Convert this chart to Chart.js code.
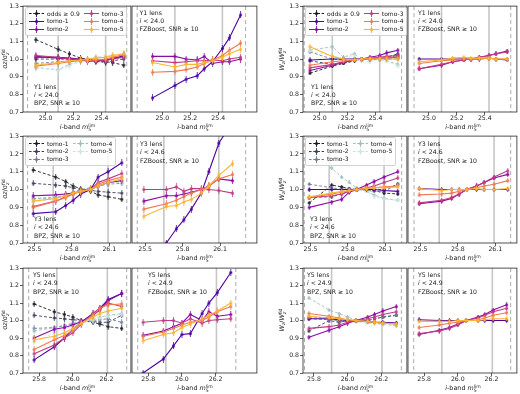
<!DOCTYPE html>
<html>
<head>
<meta charset="utf-8">
<script src="https://cdn.jsdelivr.net/npm/chart.js@4.4.1/dist/chart.umd.min.js"></script>
<style>
  body { margin: 0; background: #fff; }
  #fig { position: relative; width: 520px; height: 394px; overflow: hidden; font-family: 'DejaVu Sans', sans-serif; color: #222; }
  #fig canvas { position: absolute; }
  .txt { position: absolute; font-size: 6.2px; line-height: 8.3px; white-space: nowrap; }
  .ttl { position: absolute; font-size: 6.4px; white-space: nowrap; transform: translate(-50%, -50%); }
  .ttl.rot { transform: translate(-50%, -50%) rotate(-90deg); }
  .stk { display: inline-block; vertical-align: -0.45em; line-height: 0.85; font-size: 72%; text-align: left; }
  .leg { position: absolute; background: rgba(255,255,255,0.8); border: 0.8px solid #d2d2d2; border-radius: 2px;
         padding: 1.5px 3px; display: grid; grid-template-rows: repeat(3, 7.9px); grid-auto-flow: column;
         column-gap: 4px; font-size: 6px; line-height: 7.9px; }
  .leg div { display: flex; align-items: center; white-space: nowrap; }
  .leg svg { margin-right: 3px; }
</style>
</head>
<body>
<div id="fig"></div>
<script>
// x values (i-band depth) for each survey year
const row1X = [24.93, 25.09, 25.17, 25.25, 25.30, 25.36, 25.43, 25.48, 25.56];
const row2X = [25.49, 25.67, 25.75, 25.81, 25.87, 25.95, 26.01, 26.09, 26.20];
const row3X = [25.77, 25.89, 25.95, 26.00, 26.05, 26.12, 26.16, 26.21, 26.29];
const row1Ticks = [25.0, 25.2, 25.4];
const row2Ticks = [25.5, 25.8, 26.1];
const row3Ticks = [25.8, 26.0, 26.2];
const row1Solid = [25.09, 25.43];
const row2Solid = [25.65, 26.09];
const row3Solid = [25.905, 26.205];
const yTicks = [0.7, 0.8, 0.9, 1.0, 1.1, 1.2, 1.3];

const TOMO = ['tomo-1', 'tomo-2', 'tomo-3', 'tomo-4', 'tomo-5'];
const tomoColors = ['#4c02a1', '#8b0aa5', '#c03a83', '#ed7953', '#fdb42f'];
const oddsColors = ['#1c1c24', '#3e3e5c', '#707e9a', '#a0bebe', '#cce6e6'];

// ---- Y1 ----
const y1SigBpz = [
  [1.01, 1.01, 1.005, 1.0, 0.995, 0.99, 0.995, 1.0, 1.02],
  [1.015, 1.005, 1.0, 0.995, 0.99, 0.99, 0.995, 1.005, 1.015],
  [1.02, 1.01, 1.0, 1.0, 0.985, 0.99, 0.99, 1.0, 1.01],
  [0.96, 0.975, 0.985, 0.99, 0.99, 0.995, 1.0, 1.01, 1.025],
  [0.965, 0.98, 0.99, 0.995, 1.0, 1.005, 1.01, 1.02, 1.03],
];
const y1SigBpzOdds = [
  [1.11, 1.055, 1.03, 1.005, 1.0, 0.985, 0.985, 0.98, 0.965],
  [1.0, 1.0, 1.0, 1.0, 1.0, 0.99, 0.98, 0.99, 1.0],
  [0.975, 0.985, 0.99, 0.995, 1.0, 1.0, 0.995, 1.0, 1.01],
  [0.95, 0.94, 0.97, 0.985, 1.0, 1.01, 1.01, 1.02, 1.03],
  [0.955, 0.935, 0.96, 0.99, 1.0, 1.01, 1.02, 1.02, 1.03],
];
const y1SigFz = [
  [0.78, 0.85, 0.885, 0.905, 0.945, 0.985, 1.06, 1.12, 1.25],
  [1.015, 1.015, 1.0, 0.995, 1.015, 0.975, 0.985, 0.985, 1.0],
  [0.99, 0.98, 0.985, 0.99, 0.99, 0.995, 0.99, 1.0, 1.01],
  [0.925, 0.93, 0.94, 0.955, 0.975, 0.995, 1.02, 1.05, 1.09],
  [0.98, 0.955, 0.97, 0.97, 0.98, 0.99, 1.01, 1.03, 1.055],
];
const y1WBpz = [
  [0.995, 1.0, 1.0, 1.0, 1.0, 1.0, 1.005, 1.005, 1.01],
  [0.935, 0.965, 0.98, 0.995, 1.0, 1.01, 1.02, 1.035, 1.05],
  [0.95, 0.97, 0.985, 0.995, 1.0, 1.005, 1.01, 1.015, 1.02],
  [0.965, 0.985, 0.99, 0.995, 1.0, 1.005, 1.005, 1.01, 1.01],
  [1.07, 1.015, 1.0, 0.995, 1.0, 1.0, 1.0, 1.0, 1.0],
];
const y1WBpzOdds = [
  [0.92, 0.96, 0.975, 0.99, 1.0, 1.005, 1.01, 1.01, 1.02],
  [0.99, 0.97, 0.98, 0.995, 1.0, 1.0, 1.005, 1.01, 1.03],
  [1.04, 1.0, 0.995, 1.0, 1.0, 1.0, 0.995, 1.0, 1.0],
  [1.05, 1.07, 1.01, 1.03, 0.99, 1.01, 1.0, 0.99, 0.97],
  [1.045, 1.02, 1.0, 1.02, 0.99, 0.985, 1.0, 0.99, 0.96],
];
const y1WFz = [
  [1.0, 1.0, 1.0, 1.0, 1.0, 1.0, 1.005, 1.0, 0.995],
  [0.945, 0.965, 0.985, 0.995, 1.0, 1.01, 1.02, 1.03, 1.045],
  [0.945, 0.97, 0.985, 0.995, 1.0, 1.01, 1.02, 1.03, 1.04],
  [0.975, 0.99, 0.995, 1.0, 1.0, 1.005, 1.005, 1.0, 1.0],
  [0.985, 0.995, 1.005, 1.01, 1.005, 1.005, 1.005, 1.0, 1.0],
];

// ---- Y3 ----
const y3SigBpz = [
  [0.865, 0.875, 0.91, 0.94, 0.975, 1.0, 1.07, 1.10, 1.15],
  [0.965, 0.97, 0.975, 0.98, 0.99, 1.0, 1.02, 1.04, 1.05],
  [0.905, 0.935, 0.96, 0.975, 0.99, 1.0, 1.04, 1.06, 1.09],
  [0.90, 0.935, 0.955, 0.975, 0.99, 1.0, 1.03, 1.05, 1.07],
  [0.935, 0.95, 0.965, 0.98, 0.99, 1.0, 1.02, 1.04, 1.06],
];
const y3SigBpzOdds = [
  [1.11, 1.07, 1.045, 1.02, 1.005, 0.99, 0.97, 0.96, 0.945],
  [1.035, 1.025, 1.02, 1.01, 1.0, 0.995, 0.99, 0.985, 0.98],
  [0.95, 0.955, 0.97, 0.985, 1.0, 1.01, 1.02, 1.03, 1.035],
  [0.945, 0.955, 0.97, 0.98, 0.99, 1.0, 1.02, 1.04, 1.04],
  [0.93, 0.95, 0.965, 0.98, 0.99, 1.0, 1.02, 1.035, 1.04],
];
const y3SigFz = [
  [0.58, 0.70, 0.78, 0.83, 0.89, 0.98, 1.10, 1.26, 1.38],
  [0.935, 0.965, 0.965, 0.975, 0.985, 1.0, 1.02, 1.06, 1.05],
  [1.0, 1.0, 1.015, 0.99, 1.005, 1.005, 1.0, 0.995, 0.98],
  [0.89, 0.92, 0.94, 0.96, 0.98, 1.0, 1.02, 1.06, 1.085],
  [0.85, 0.905, 0.91, 0.93, 0.945, 0.98, 1.02, 1.08, 1.145],
];
const y3WBpz = [
  [1.0, 1.0, 1.0, 1.0, 1.0, 1.0, 1.0, 0.995, 0.99],
  [0.90, 0.93, 0.945, 0.985, 1.0, 1.025, 1.045, 1.07, 1.10],
  [0.955, 0.965, 0.975, 0.99, 1.0, 1.01, 1.02, 1.04, 1.065],
  [0.955, 0.975, 0.985, 0.995, 1.0, 1.005, 1.01, 1.015, 1.02],
  [0.96, 0.98, 0.99, 0.995, 1.0, 1.005, 1.01, 1.01, 1.015],
];
const y3WBpzOdds = [
  [0.925, 1.025, 1.015, 1.005, 1.0, 1.0, 0.995, 0.98, 0.975],
  [0.955, 0.96, 0.975, 0.99, 1.0, 1.0, 1.0, 1.0, 1.03],
  [1.03, 1.01, 1.0, 1.005, 1.0, 0.995, 0.99, 0.99, 1.03],
  [1.21, 1.12, 1.07, 1.04, 1.01, 0.99, 0.97, 0.95, 0.94],
  [1.0, 1.0, 1.0, 1.0, 1.0, 0.99, 0.96, 0.945, 0.94],
];
const y3WFz = [
  [1.005, 1.0, 1.0, 1.0, 1.0, 1.0, 1.0, 1.0, 1.0],
  [0.92, 0.935, 0.95, 0.975, 1.0, 1.02, 1.04, 1.065, 1.085],
  [0.925, 0.94, 0.955, 0.975, 1.0, 1.02, 1.04, 1.07, 1.105],
  [0.97, 0.975, 0.98, 0.99, 1.0, 1.01, 1.02, 1.03, 1.05],
  [1.005, 0.995, 1.0, 1.0, 1.0, 1.005, 1.0, 1.0, 1.005],
];

// ---- Y5 ----
const y5SigBpz = [
  [0.775, 0.85, 0.90, 0.95, 0.99, 1.04, 1.07, 1.12, 1.155],
  [0.90, 0.95, 0.96, 0.975, 0.995, 1.03, 1.06, 1.115, 1.155],
  [0.81, 0.86, 0.90, 0.93, 0.98, 1.04, 1.07, 1.10, 1.08],
  [0.835, 0.89, 0.915, 0.945, 0.985, 1.03, 1.07, 1.09, 1.095],
  [0.89, 0.91, 0.93, 0.955, 0.985, 1.02, 1.04, 1.055, 1.07],
];
const y5SigBpzOdds = [
  [1.095, 1.05, 1.035, 1.02, 1.0, 0.99, 0.98, 0.965, 0.955],
  [1.03, 1.015, 1.01, 1.005, 1.0, 0.995, 0.99, 0.99, 1.03],
  [0.955, 0.96, 0.97, 0.98, 0.99, 1.0, 1.005, 1.01, 0.99],
  [0.94, 0.96, 0.975, 0.985, 1.0, 1.005, 1.02, 1.03, 1.04],
  [0.875, 0.93, 0.95, 0.97, 0.99, 1.0, 1.015, 1.025, 1.035],
];
const y5SigFz = [
  [0.70, 0.78, 0.855, 0.92, 0.925, 1.04, 1.10, 1.16, 1.275],
  [0.915, 0.94, 0.965, 0.985, 1.035, 1.0, 1.05, 1.025, 1.035],
  [0.99, 1.0, 1.0, 0.985, 1.01, 0.985, 1.0, 1.005, 1.01],
  [0.91, 0.935, 0.955, 0.975, 0.99, 1.0, 1.02, 1.05, 1.08],
  [0.885, 0.92, 0.93, 0.96, 0.98, 1.01, 1.03, 1.055, 1.10],
];
const y5WBpz = [
  [1.01, 1.01, 1.005, 1.0, 1.0, 0.995, 0.99, 0.99, 0.985],
  [0.905, 0.945, 0.965, 0.985, 1.0, 1.02, 1.035, 1.055, 1.08],
  [0.955, 0.965, 0.975, 0.99, 1.0, 1.01, 1.02, 1.035, 1.05],
  [1.04, 1.025, 1.015, 1.005, 1.0, 0.995, 0.99, 0.985, 0.98],
  [1.025, 1.015, 1.01, 1.005, 1.0, 0.995, 0.99, 0.985, 0.98],
];
const y5WBpzOdds = [
  [1.02, 1.015, 1.0, 0.995, 1.0, 1.0, 1.01, 1.02, 1.03],
  [0.94, 1.0, 0.99, 1.0, 1.0, 0.995, 0.99, 0.985, 0.985],
  [1.01, 1.005, 1.0, 1.0, 0.995, 1.0, 1.01, 1.02, 1.03],
  [1.13, 1.06, 1.04, 1.02, 1.0, 0.99, 0.985, 0.98, 0.97],
  [1.02, 1.01, 1.005, 1.0, 0.99, 0.985, 0.98, 0.975, 0.975],
];
const y5WFz = [
  [1.005, 1.0, 1.0, 1.0, 1.0, 1.0, 1.0, 1.0, 1.0],
  [0.92, 0.945, 0.96, 0.98, 1.0, 1.02, 1.035, 1.06, 1.09],
  [0.925, 0.94, 0.955, 0.975, 1.0, 1.015, 1.03, 1.05, 1.07],
  [0.96, 0.975, 0.985, 0.99, 1.0, 1.005, 1.015, 1.03, 1.045],
  [0.995, 0.995, 0.995, 1.0, 1.0, 1.0, 1.005, 1.01, 1.01],
];

// layout (chart-area boxes in page pixels)
const COLS = { AL: [23, 132], AR: [132, 258], BL: [303, 408], BR: [408, 518] };
const ROWS = [[5, 112], [135, 243], [267, 373]];
const ROWINFO = [
  { x: row1X, ticks: row1Ticks, solid: row1Solid, lens: 'Y1', cut: '24.0' },
  { x: row2X, ticks: row2Ticks, solid: row2Solid, lens: 'Y3', cut: '24.6' },
  { x: row3X, ticks: row3Ticks, solid: row3Solid, lens: 'Y5', cut: '24.9' },
];

const panels = [
  { row: 0, col: 'AL', tomo: y1SigBpz, odds: y1SigBpzOdds, range: [24.838, 25.611], dashed: [24.871, 25.581], code: 'BPZ', note: [34, 82.5], legend: 'odds' },
  { row: 0, col: 'AR', tomo: y1SigFz, range: [24.783, 25.677], dashed: [24.82, 25.596], code: 'FZBoost', note: [139.5, 8.5] },
  { row: 0, col: 'BL', tomo: y1WBpz, odds: y1WBpzOdds, range: [24.880, 25.625], dashed: [24.889, 25.587], code: 'BPZ', note: [311, 82.5], legend: 'odds' },
  { row: 0, col: 'BR', tomo: y1WFz, range: [24.850, 25.630], dashed: [24.893, 25.586], code: 'FZBoost', note: [418, 8.5] },

  { row: 1, col: 'AL', tomo: y3SigBpz, odds: y3SigBpzOdds, range: [25.408, 26.273], dashed: [25.445, 26.24], code: 'BPZ', note: [34, 215], legend: 'tomo' },
  { row: 1, col: 'AR', tomo: y3SigFz, range: [25.395, 26.395], dashed: [25.437, 26.305], code: 'FZBoost', note: [140, 140] },
  { row: 1, col: 'BL', tomo: y3WBpz, odds: y3WBpzOdds, range: [25.440, 26.273], dashed: [25.45, 26.231], code: 'BPZ', note: [310, 215], legend: 'tomo' },
  { row: 1, col: 'BR', tomo: y3WFz, range: [25.400, 26.273], dashed: [25.448, 26.223], code: 'FZBoost', note: [418, 140] },

  { row: 2, col: 'AL', tomo: y5SigBpz, odds: y5SigBpzOdds, range: [25.704, 26.345], dashed: [25.738, 26.32], code: 'BPZ', note: [33, 271] },
  { row: 2, col: 'AR', tomo: y5SigFz, range: [25.704, 26.445], dashed: [25.738, 26.32], code: 'FZBoost', note: [148, 271] },
  { row: 2, col: 'BL', tomo: y5WBpz, odds: y5WBpzOdds, range: [25.735, 26.353], dashed: [25.744, 26.32], code: 'BPZ', note: [307, 271] },
  { row: 2, col: 'BR', tomo: y5WFz, range: [25.704, 26.351], dashed: [25.738, 26.314], code: 'FZBoost', note: [418, 271] },
];

Chart.defaults.font.family = "'DejaVu Sans', sans-serif";
Chart.defaults.font.size = 6.2;
Chart.defaults.color = '#222';

const fig = document.getElementById('fig');
const YAX = 26, XAX = 22, PADT = 4, PADR = 4;

// errorbar-like marker: vertical bar with a dot
const spriteCache = {};
function marker(color, h) {
  const key = color + h;
  if (spriteCache[key]) return spriteCache[key];
  const c = document.createElement('canvas');
  c.width = 5; c.height = h;
  const g = c.getContext('2d');
  g.strokeStyle = color; g.lineWidth = 0.8;
  g.beginPath(); g.moveTo(2.5, 0); g.lineTo(2.5, h); g.stroke();
  g.fillStyle = color;
  g.beginPath(); g.arc(2.5, h / 2, 1.5, 0, Math.PI * 2); g.fill();
  spriteCache[key] = c;
  return c;
}

const vlines = {
  id: 'vlines',
  beforeDatasetsDraw(chart, args, opts) {
    const { ctx, chartArea: a, scales: { x } } = chart;
    ctx.save();
    ctx.beginPath(); ctx.rect(a.left, a.top, a.width, a.height); ctx.clip();
    ctx.strokeStyle = '#c6c6c6'; ctx.lineWidth = 1.6;
    opts.solid.forEach(v => {
      const px = x.getPixelForValue(v);
      ctx.beginPath(); ctx.moveTo(px, a.top); ctx.lineTo(px, a.bottom); ctx.stroke();
    });
    ctx.strokeStyle = '#ababab'; ctx.lineWidth = 1; ctx.setLineDash([4, 3]);
    opts.dashed.forEach(v => {
      const px = x.getPixelForValue(v);
      ctx.beginPath(); ctx.moveTo(px, a.top); ctx.lineTo(px, a.bottom); ctx.stroke();
    });
    ctx.restore();
  }
};

const frame = {
  id: 'frame',
  afterDatasetsDraw(chart) {
    const { ctx, chartArea: a } = chart;
    ctx.save();
    ctx.strokeStyle = '#262626'; ctx.lineWidth = 0.8;
    ctx.strokeRect(a.left, a.top, a.width, a.height);
    ctx.restore();
  }
};

function makePanel(p) {
  const info = ROWINFO[p.row];
  const [x0, x1] = COLS[p.col];
  const [y0, y1] = ROWS[p.row];
  const isLeft = p.col === 'AL' || p.col === 'BL';
  const isSigma = p.col[0] === 'A';
  const W = (x1 - x0) + YAX + PADR, H = (y1 - y0) + PADT + XAX;

  const cv = document.createElement('canvas');
  cv.width = W; cv.height = H;
  cv.style.left = (x0 - YAX) + 'px'; cv.style.top = (y0 - PADT) + 'px';
  cv.style.width = W + 'px'; cv.style.height = H + 'px';
  fig.appendChild(cv);

  const barH = isSigma ? 7 : 5;
  const datasets = [];
  p.tomo.forEach((ys, i) => datasets.push({
    label: TOMO[i],
    data: info.x.map((x, j) => ({ x, y: ys[j] })),
    borderColor: tomoColors[i], backgroundColor: tomoColors[i],
    borderWidth: 1.1, pointStyle: marker(tomoColors[i], barH), pointRadius: 2,
    order: 5 - i, clip: 0
  }));
  (p.odds || []).forEach((ys, i) => datasets.push({
    label: 'odds ' + TOMO[i],
    data: info.x.map((x, j) => ({ x, y: ys[j] })),
    borderColor: oddsColors[i], backgroundColor: oddsColors[i],
    borderWidth: 0.9, borderDash: [3, 2], pointStyle: marker(oddsColors[i], barH - 1), pointRadius: 2,
    order: 20 - i, clip: 0
  }));

  new Chart(cv, {
    type: 'line',
    data: { datasets },
    options: {
      responsive: false, animation: false, devicePixelRatio: 1,
      layout: { padding: { left: 0, top: PADT, right: PADR, bottom: 0 } },
      plugins: {
        legend: { display: false }, tooltip: { enabled: false },
        vlines: { solid: info.solid, dashed: p.dashed }
      },
      scales: {
        x: {
          type: 'linear', min: p.range[0], max: p.range[1],
          afterFit: s => { s.height = XAX; },
          afterBuildTicks: s => { s.ticks = info.ticks.map(v => ({ value: v })); },
          ticks: { callback: v => v.toFixed(1), maxRotation: 0, autoSkip: false, padding: 0 },
          grid: { drawOnChartArea: false, tickLength: 3, tickColor: '#333', tickWidth: 0.8 },
          border: { display: false }
        },
        y: {
          min: 0.7, max: 1.3,
          afterFit: s => { s.width = YAX; },
          afterBuildTicks: s => { s.ticks = yTicks.map(v => ({ value: v })); },
          ticks: { display: isLeft, callback: v => v.toFixed(1), padding: 1 },
          grid: { display: isLeft, drawOnChartArea: false, tickLength: 3, tickColor: '#333', tickWidth: 0.8 },
          border: { display: false }
        }
      }
    },
    plugins: [vlines, frame]
  });

  // annotation
  const n = document.createElement('div');
  n.className = 'txt';
  n.style.left = p.note[0] + 'px'; n.style.top = p.note[1] + 'px';
  n.innerHTML = `${info.lens} lens<br><i>i</i> &lt; ${info.cut}<br>${p.code}, SNR ≥ 10`;
  fig.appendChild(n);

  // x title
  const xt = document.createElement('div');
  xt.className = 'ttl';
  xt.style.left = ((x0 + x1) / 2) + 'px'; xt.style.top = (y1 + 14.5) + 'px';
  xt.innerHTML = '<i>i</i>-band <i>m</i><span class="stk">lim<br>5</span>';
  fig.appendChild(xt);

  if (p.legend) addLegend(p, x0, y0);
}

function sym(color, dash) {
  return `<svg width="15" height="7" viewBox="0 0 15 7">` +
    `<line x1="0" y1="3.5" x2="15" y2="3.5" stroke="${color}" stroke-width="1"${dash ? ' stroke-dasharray="2.6 1.6"' : ''}/>` +
    `<line x1="7.5" y1="0" x2="7.5" y2="7" stroke="${color}" stroke-width="0.9"/>` +
    `<circle cx="7.5" cy="3.5" r="1.6" fill="${color}"/></svg>`;
}

function addLegend(p, x0, y0) {
  let entries;
  if (p.legend === 'odds') {
    entries = [{ label: 'odds ≥ 0.9', color: oddsColors[0], dash: true }]
      .concat(TOMO.map((t, i) => ({ label: t, color: tomoColors[i], dash: false })));
  } else {
    entries = TOMO.map((t, i) => ({ label: t, color: oddsColors[i], dash: true }));
  }
  const lg = document.createElement('div');
  lg.className = 'leg';
  lg.style.left = (x0 + 2) + 'px'; lg.style.top = (y0 + 2) + 'px';
  lg.innerHTML = entries.map(e => `<div>${sym(e.color, e.dash)}<span>${e.label}</span></div>`).join('');
  fig.appendChild(lg);
}

panels.forEach(makePanel);

// y titles
ROWS.forEach(([y0, y1]) => {
  const a = document.createElement('div');
  a.className = 'ttl rot';
  a.style.left = '5px'; a.style.top = ((y0 + y1) / 2) + 'px';
  a.innerHTML = 'σ<i>z</i>/σ<span class="stk">fid<br><i>z</i></span>';
  fig.appendChild(a);
  const b = document.createElement('div');
  b.className = 'ttl rot';
  b.style.left = '282px'; b.style.top = ((y0 + y1) / 2) + 'px';
  b.innerHTML = '<i>W</i><span style="font-size:72%;vertical-align:-0.3em"><i>z</i></span>/<i>W</i><span class="stk">fid<br><i>z</i></span>';
  fig.appendChild(b);
});
</script>
</body>
</html>
